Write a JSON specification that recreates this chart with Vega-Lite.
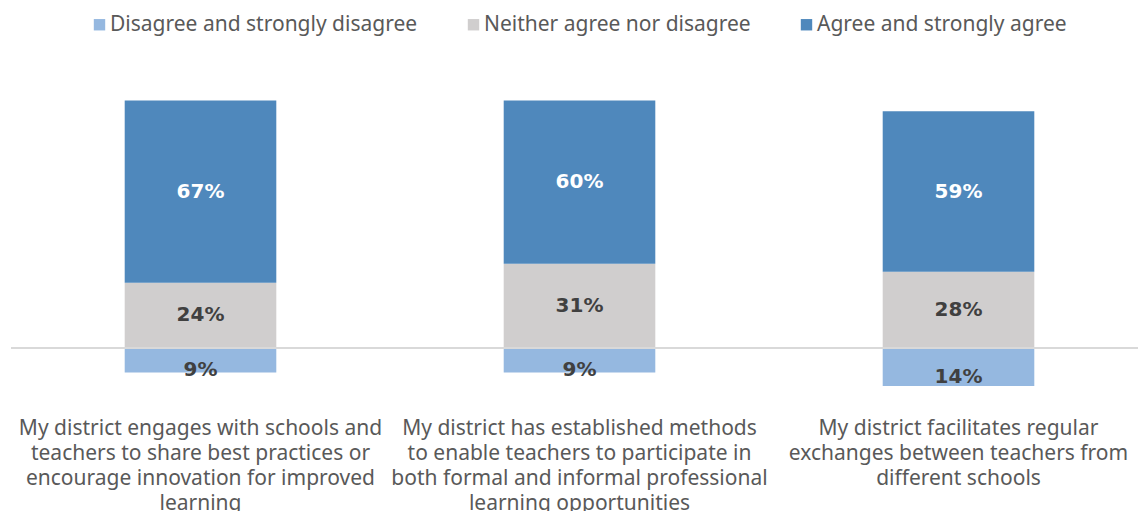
{
  "$schema": "https://vega.github.io/schema/vega-lite/v6.json",
  "width": 1137,
  "height": 340,
  "padding": {"left": 10, "top": 14, "right": 0, "bottom": 0},
  "background": "white",
  "config": {"view": {"stroke": null}, "font": "Noto Sans"},
  "data": {
    "values": [
      {"q": "My district engages with schools and|teachers to share best practices or|encourage innovation for improved|learning", "qi": 1, "category": "Disagree and strongly disagree", "ord": 0, "value": -9},
      {"q": "My district engages with schools and|teachers to share best practices or|encourage innovation for improved|learning", "qi": 1, "category": "Neither agree nor disagree", "ord": 1, "value": 24},
      {"q": "My district engages with schools and|teachers to share best practices or|encourage innovation for improved|learning", "qi": 1, "category": "Agree and strongly agree", "ord": 2, "value": 67},
      {"q": "My district has established methods|to enable teachers to participate in|both formal and informal professional|learning opportunities", "qi": 2, "category": "Disagree and strongly disagree", "ord": 0, "value": -9},
      {"q": "My district has established methods|to enable teachers to participate in|both formal and informal professional|learning opportunities", "qi": 2, "category": "Neither agree nor disagree", "ord": 1, "value": 31},
      {"q": "My district has established methods|to enable teachers to participate in|both formal and informal professional|learning opportunities", "qi": 2, "category": "Agree and strongly agree", "ord": 2, "value": 60},
      {"q": "My district facilitates regular|exchanges between teachers from|different schools", "qi": 3, "category": "Disagree and strongly disagree", "ord": 0, "value": -14},
      {"q": "My district facilitates regular|exchanges between teachers from|different schools", "qi": 3, "category": "Neither agree nor disagree", "ord": 1, "value": 28},
      {"q": "My district facilitates regular|exchanges between teachers from|different schools", "qi": 3, "category": "Agree and strongly agree", "ord": 2, "value": 59}
    ]
  },
  "transform": [
    {"stack": "value", "groupby": ["q"], "sort": [{"field": "ord", "order": "ascending"}], "as": ["y0", "y1"]},
    {"calculate": "(datum.y0 + datum.y1) / 2", "as": "mid"},
    {"calculate": "abs(datum.value) + '%'", "as": "label"}
  ],
  "encoding": {
    "x": {
      "field": "q", "type": "nominal",
      "sort": {"field": "qi"},
      "scale": {"paddingInner": 0.6, "paddingOuter": 0.3},
      "axis": {
        "title": null, "domain": false, "ticks": false, "labelAngle": 0,
        "labelExpr": "split(datum.label, '|')",
        "labelFont": "Noto Sans", "labelFontSize": 21, "labelColor": "#595959",
        "labelLineHeight": 25, "labelPadding": 16, "labelLimit": 0,
        "labelAlign": "center", "labelBaseline": "top", "labelOverlap": false
      }
    }
  },
  "layer": [
    {
      "mark": {"type": "bar"},
      "encoding": {
        "y": {"field": "y0", "type": "quantitative", "scale": {"domain": [-19.5, 105.5], "nice": false, "zero": false}, "axis": null},
        "y2": {"field": "y1"},
        "color": {
          "field": "category", "type": "nominal",
          "sort": ["Disagree and strongly disagree", "Neither agree nor disagree", "Agree and strongly agree"],
          "scale": {"domain": ["Disagree and strongly disagree", "Neither agree nor disagree", "Agree and strongly agree"], "range": ["#95B8E0", "#D0CECE", "#4F88BC"]},
          "legend": {
            "title": null, "orient": "none", "legendX": 78, "legendY": -47, "direction": "horizontal",
            "symbolType": "square", "symbolSize": 130, "symbolStrokeWidth": 0,
            "labelFont": "Noto Sans", "labelFontSize": 21, "labelColor": "#595959",
            "columnPadding": 45, "labelOffset": 0, "labelLimit": 0
          }
        }
      }
    },
    {
      "mark": {"type": "rule", "color": "#D9D9D9", "strokeWidth": 2},
      "encoding": {"y": {"datum": 0, "type": "quantitative"}, "x": null}
    },
    {
      "transform": [{"filter": "datum.ord > 0"}],
      "mark": {"type": "text", "fontSize": 20, "fontWeight": "bold", "font": "DejaVu Sans"},
      "encoding": {
        "y": {"field": "mid", "type": "quantitative"},
        "text": {"field": "label"},
        "color": {"condition": {"test": "datum.ord == 2", "value": "#FFFFFF"}, "value": "#404040"}
      }
    },
    {
      "transform": [{"filter": "datum.ord == 0"}],
      "mark": {"type": "text", "fontSize": 20, "fontWeight": "bold", "font": "DejaVu Sans", "dy": 10, "color": "#404040"},
      "encoding": {
        "y": {"field": "mid", "type": "quantitative"},
        "text": {"field": "label"}
      }
    }
  ]
}
